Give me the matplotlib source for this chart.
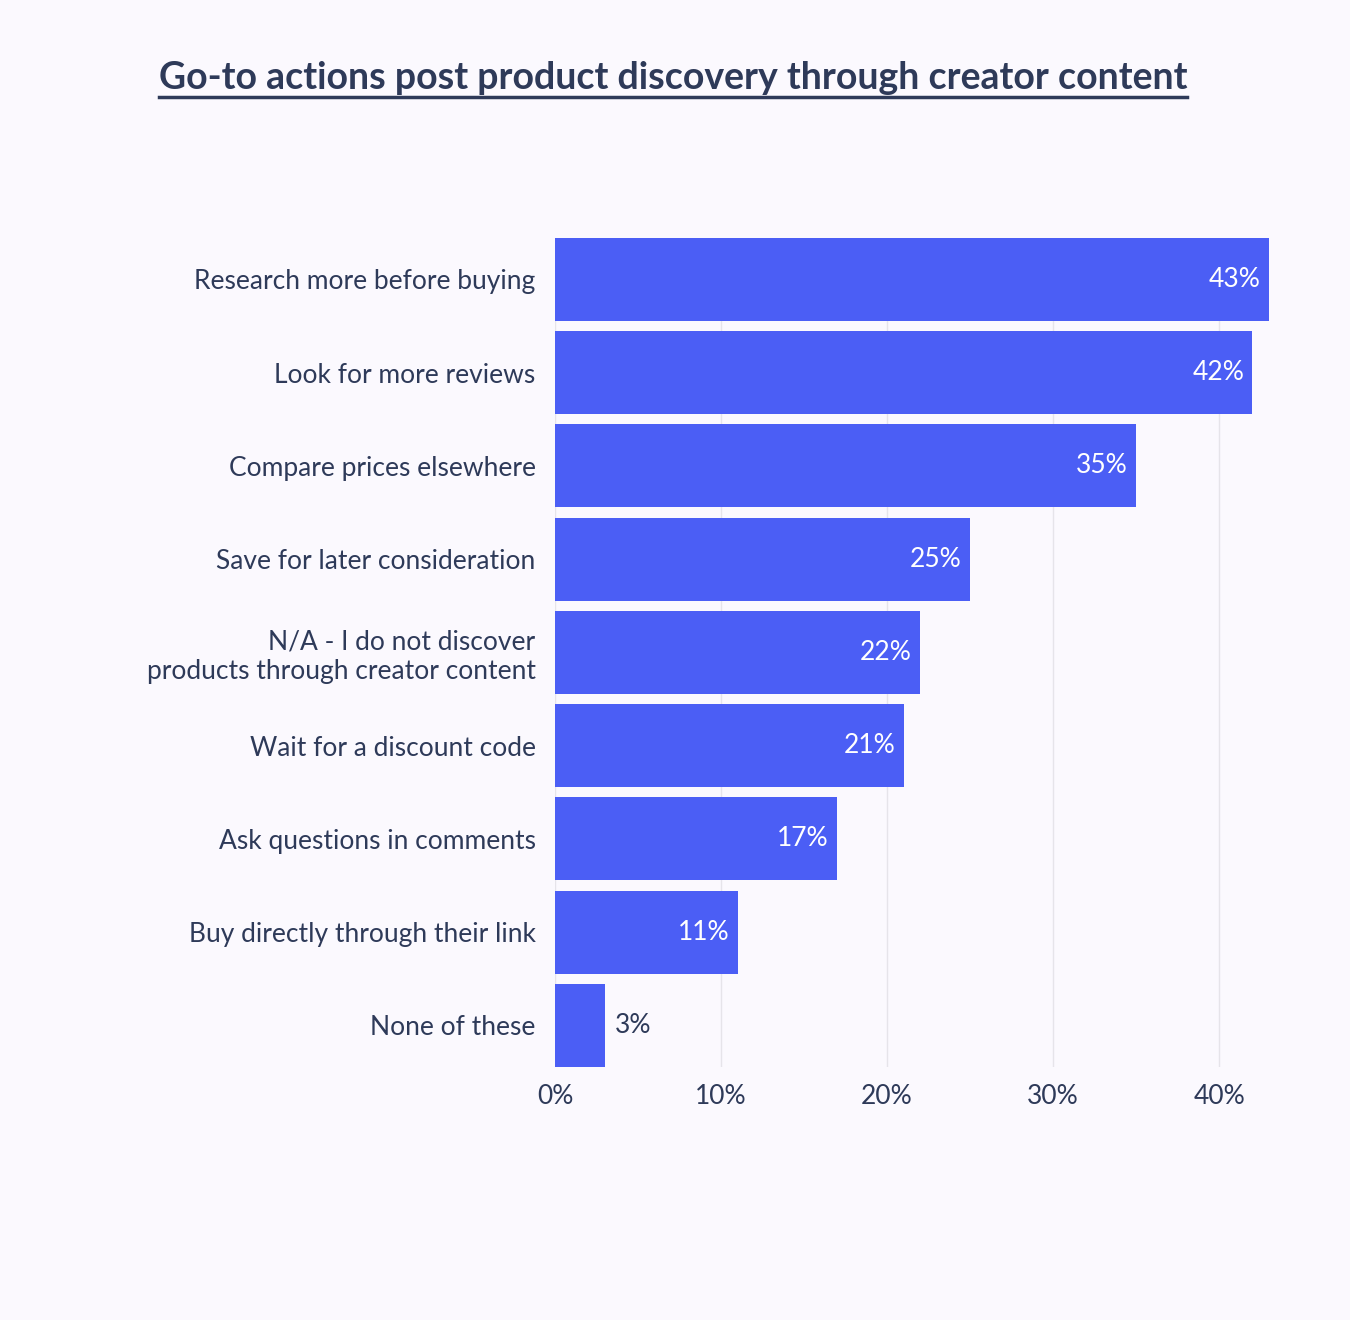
import matplotlib
matplotlib.use("Agg")
import matplotlib.pyplot as plt
from matplotlib.lines import Line2D

categories = ["Research more before buying", "Look for more reviews", "Compare prices elsewhere",
              "Save for later consideration", "N/A - I do not discover\nproducts through creator content",
              "Wait for a discount code", "Ask questions in comments", "Buy directly through their link",
              "None of these"]
values = [43, 42, 35, 25, 22, 21, 17, 11, 3]
ticks = [0, 10, 20, 30, 40]
tick_labels = ["0%", "10%", "20%", "30%", "40%"]

bg = "#FBF9FE"; bar_c = "#4B5EF5"; txt = "#2E3A59"
plt.rcParams["font.family"] = "Lato"
fig = plt.figure(figsize=(13.5, 13.2), dpi=100, facecolor=bg)
ax = fig.add_axes([0.4111, 0.1917, 0.94 - 0.4111, 0.8197 - 0.1917], facecolor=bg)
y = list(range(len(categories)))
ax.barh(y, values, height=0.89, color=bar_c, zorder=3)
ax.set_xlim(0, 43)
ax.set_ylim(8.445, -0.445)
ax.set_xticks(ticks); ax.set_xticklabels(tick_labels, fontsize=19, color=txt)
ax.set_yticks(y); ax.set_yticklabels(categories, fontsize=19, color=txt)
for lab in ax.get_yticklabels():
    lab.set_horizontalalignment("right")
    lab.set_multialignment("right")
ax.tick_params(length=0, pad=14)
ax.tick_params(axis="x", pad=12)
ax.grid(axis="x", color="#E6E4EA", lw=1, zorder=0)
for s in ax.spines.values(): s.set_visible(False)
for yi, v in zip(y, values):
    if v >= 8:
        ax.text(v - 0.5, yi, f"{v}%", ha="right", va="center", color="white", fontsize=19, zorder=4)
    else:
        ax.text(v + 0.6, yi, f"{v}%", ha="left", va="center", color=txt, fontsize=19, zorder=4)

t = fig.text(0.4985, 0.941, "Go-to actions post product discovery through creator content",
             ha="center", va="center", fontsize=27, fontweight="bold", color=txt)
fig.canvas.draw()
bb = t.get_window_extent().transformed(fig.transFigure.inverted())
fig.add_artist(Line2D([bb.x0, bb.x1], [0.9265, 0.9265], color=txt, lw=2.5, transform=fig.transFigure))
fig.savefig("out.png", dpi=100, facecolor=bg)
